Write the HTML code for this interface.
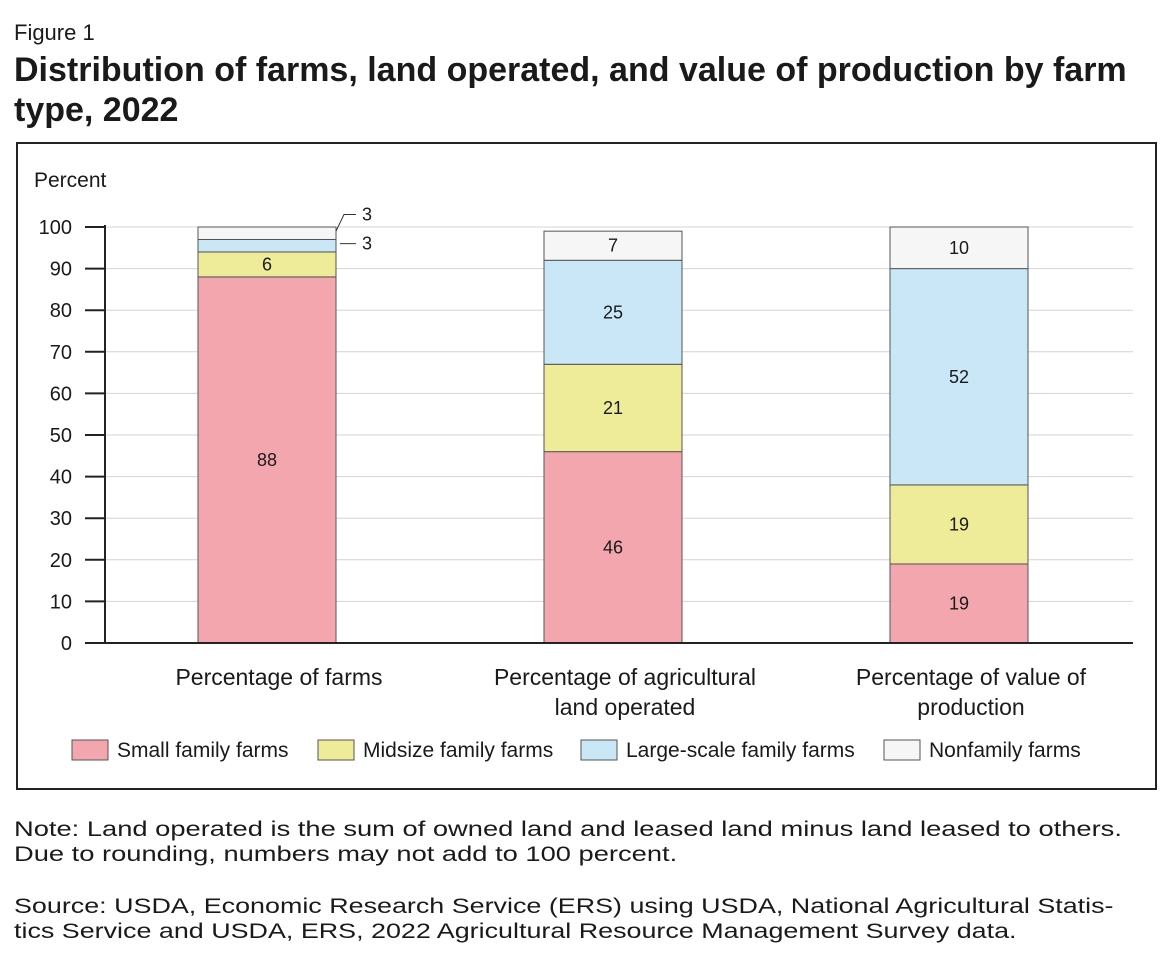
<!DOCTYPE html>
<html><head><meta charset="utf-8"><style>
body{margin:0;background:#fff;font-family:"Liberation Sans",sans-serif;color:#1a1a1a;}
#wrap{position:relative;width:1166px;height:965px;overflow:hidden;}
.t{position:absolute;white-space:nowrap;}
</style></head><body>
<div id="wrap">
<div class="t" style="left:14px;top:20px;font-size:22px;">Figure 1</div>
<div class="t" style="left:14px;top:50px;font-size:34px;font-weight:bold;line-height:40px;">Distribution of farms, land operated, and value of production by farm<br>type, 2022</div>
<div style="position:absolute;left:16px;top:142px;width:1137px;height:644px;border:2px solid #222;"></div>
<svg id="chart" width="1166" height="965" style="position:absolute;left:0;top:0"></svg>
<div class="t" style="left:14px;top:817px;font-size:21px;line-height:25px;transform:scaleX(1.3);transform-origin:0 0;">Note: Land operated is the sum of owned land and leased land minus land leased to others.<br>Due to rounding, numbers may not add to 100 percent.</div>
<div class="t" style="left:14px;top:894px;font-size:21px;line-height:25px;transform:scaleX(1.28);transform-origin:0 0;">Source: USDA, Economic Research Service (ERS) using USDA, National Agricultural Statis-<br>tics Service and USDA, ERS, 2022 Agricultural Resource Management Survey data.</div>
</div>
<script>
const categories=[["Percentage of farms"],["Percentage of agricultural","land operated"],["Percentage of value of","production"]];
const seriesNames=["Small family farms","Midsize family farms","Large-scale family farms","Nonfamily farms"];
const small=[88,46,19];
const midsize=[6,21,19];
const large=[3,25,52];
const nonfamily=[3,7,10];
const yTicks=[0,10,20,30,40,50,60,70,80,90,100];
const colors=["#f4a6ae","#eeeb99","#c9e7f6","#f6f6f6"];
const NS="http://www.w3.org/2000/svg";
const svg=document.getElementById('chart');
const y=v=>643-v*4.16;
const xc=i=>267+i*346;
const bw=138;
function el(t,a,p){const e=document.createElementNS(NS,t);for(const k in a)e.setAttribute(k,a[k]);(p||svg).appendChild(e);return e;}
function txt(x,yy,s,size,anchor){const e=el('text',{x:x,y:yy,'font-size':size,'text-anchor':anchor||'middle','font-family':'Liberation Sans, sans-serif',fill:'#1a1a1a'});e.textContent=s;return e;}
let t=txt(34,187,"Percent",21,'start');


yTicks.forEach(v=>{
  if(v>0){const g=el('line',{x1:105,x2:1133,y1:y(v),y2:y(v),stroke:'#d4d4d4','stroke-width':1});
  
  }
  const tk=el('line',{x1:85,x2:105,y1:y(v),y2:y(v),stroke:'#222','stroke-width':2});
  
  
  const l=txt(72,y(v)+7,String(v),20,'end');
  
  
});
const series=[small,midsize,large,nonfamily];
categories.forEach((c,i)=>{
  let cum=0;
  series.forEach((s,j)=>{
    const v=s[i];
    const r=el('rect',{x:xc(i)-bw/2,y:y(cum+v),width:bw,height:v*4.16,fill:colors[j],stroke:'#555','stroke-width':1});
    
    
    if(v>=5){const l=txt(xc(i),y(cum+v/2)+6,String(v),18);
      
      }
    cum+=v;
  });
  c.forEach((line,k)=>{const l=txt(xc(i)+12,y(0)+42+k*30,line,23);
    
    });
});
let c1=el('path',{d:`M${xc(0)+bw/2},${y(99)} L${xc(0)+bw/2+8},${y(103)} L${xc(0)+bw/2+20},${y(103)}`,stroke:'#333',fill:'none','stroke-width':1});


let cl1=txt(xc(0)+bw/2+26,y(103)+6,String(nonfamily[0]),18,'start');


let c2=el('line',{x1:xc(0)+bw/2+4,x2:xc(0)+bw/2+20,y1:y(96),y2:y(96),stroke:'#333','stroke-width':1});


let cl2=txt(xc(0)+bw/2+26,y(96)+6,String(large[0]),18,'start');


let ax=el('line',{x1:105,x2:105,y1:y(100)-2,y2:y(0),stroke:'#222','stroke-width':2});


let bx=el('line',{x1:105,x2:1133,y1:y(0),y2:y(0),stroke:'#222','stroke-width':2});


const lx=[72,318,581,884];
seriesNames.forEach((n,j)=>{
  const r=el('rect',{x:lx[j],y:740,width:36,height:20,fill:colors[j],stroke:'#555','stroke-width':1});
  
  
  const l=txt(lx[j]+45,757,n,21,'start');
  
  
});
</script>
</body></html>
